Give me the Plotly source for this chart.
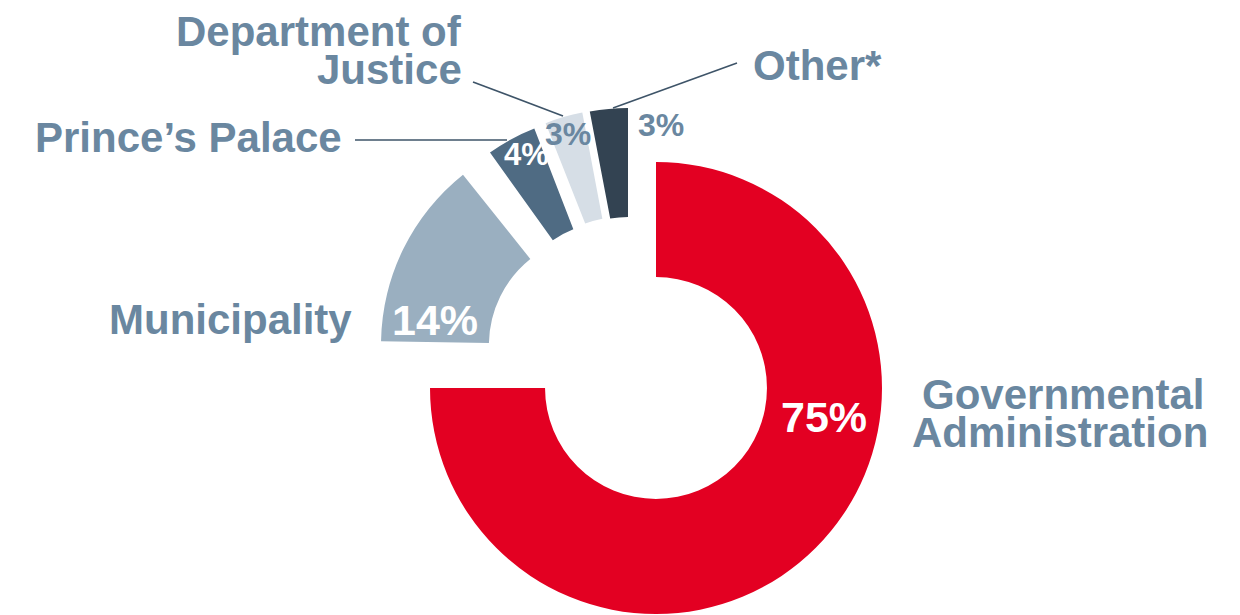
import plotly.graph_objects as go

# ---- data ----
categories = ["Governmental Administration", "Municipality", "Prince’s Palace",
              "Department of Justice", "Other*"]
shares = [75, 14, 4, 3, 3]          # percent
total = 100
name_lines = [["Governmental", "Administration"], ["Municipality"], ["Prince’s Palace"],
              ["Department of", "Justice"], ["Other*"]]

# ---- style ----
colors = ["#e30022", "#9aafc0", "#4f6b83", "#d6dee6", "#334352"]
W, H = 1240, 615
# per-slice drawing geometry (px): centre, outer radius, hole fraction, angular offset (gap)
centers = [(656, 388), (599, 345), (607, 316), (620, 312), (628, 312)]
radii = [226, 218, 201, 203, 204]
holes = [0.491, 0.505, 0.463, 0.468, 0.466]
gap_offsets = [0, 1, 4, 3.7, 3.6]

label_color = "#6a87a0"
line_color = "#3e5468"
FONT = "Liberation Sans"

fig = go.Figure()
cum = 0
for i, v in enumerate(shares):
    cx, cy = centers[i]
    r = radii[i]
    rot = cum * 360 / total + gap_offsets[i]
    fig.add_trace(go.Pie(
        values=[v, total - v],
        labels=[categories[i], "rest"],
        sort=False,
        direction="clockwise",
        rotation=rot,
        hole=holes[i],
        marker=dict(colors=[colors[i], "rgba(0,0,0,0)"], line=dict(width=0)),
        textinfo="none",
        hoverinfo="skip",
        showlegend=False,
        domain=dict(x=[(cx - r) / W, (cx + r) / W],
                    y=[1 - (cy + r) / H, 1 - (cy - r) / H]),
    ))
    cum += v

annotations = []

def ann(text, x, y, size, color, xanchor="center"):
    annotations.append(dict(
        text=f"<b>{text}</b>", x=x / W, y=1 - y / H, xref="paper", yref="paper",
        xanchor=xanchor, yanchor="middle", showarrow=False,
        font=dict(family=FONT, size=size, color=color)))

# percentage labels
pct = [f"{v}%" for v in shares]
ann(pct[0], 824, 417, 43, "white")
ann(pct[1], 435, 320, 43, "white")
ann(pct[2], 526, 155, 31, "white")
ann(pct[3], 568, 134, 32, label_color)
ann(pct[4], 661, 125, 32, label_color)

# category labels
NS = 42
ann(name_lines[0][0], 1063, 394, NS, label_color)
ann(name_lines[0][1], 1060, 432, NS, label_color)
ann(name_lines[1][0], 354, 319, NS, label_color, "right")
ann(name_lines[2][0], 344, 137, NS, label_color, "right")
ann(name_lines[3][0], 464, 32, NS, label_color, "right")
ann(name_lines[3][1], 464, 69, NS, label_color, "right")
ann(name_lines[4][0], 751, 65, NS, label_color, "left")

shapes = []
def seg(x0, y0, x1, y1):
    shapes.append(dict(type="line", xref="paper", yref="paper",
                       x0=x0 / W, y0=1 - y0 / H, x1=x1 / W, y1=1 - y1 / H,
                       line=dict(color=line_color, width=1.6)))

seg(355, 140, 507, 140)
seg(473, 82, 563, 116)
seg(737, 63, 613, 108)

fig.update_layout(
    width=W, height=H,
    margin=dict(l=0, r=0, t=0, b=0),
    paper_bgcolor="white", plot_bgcolor="white",
    annotations=annotations, shapes=shapes,
)

fig.write_html("out.html", config={"displayModeBar": False},
               post_script="document.body.style.margin='0';")
